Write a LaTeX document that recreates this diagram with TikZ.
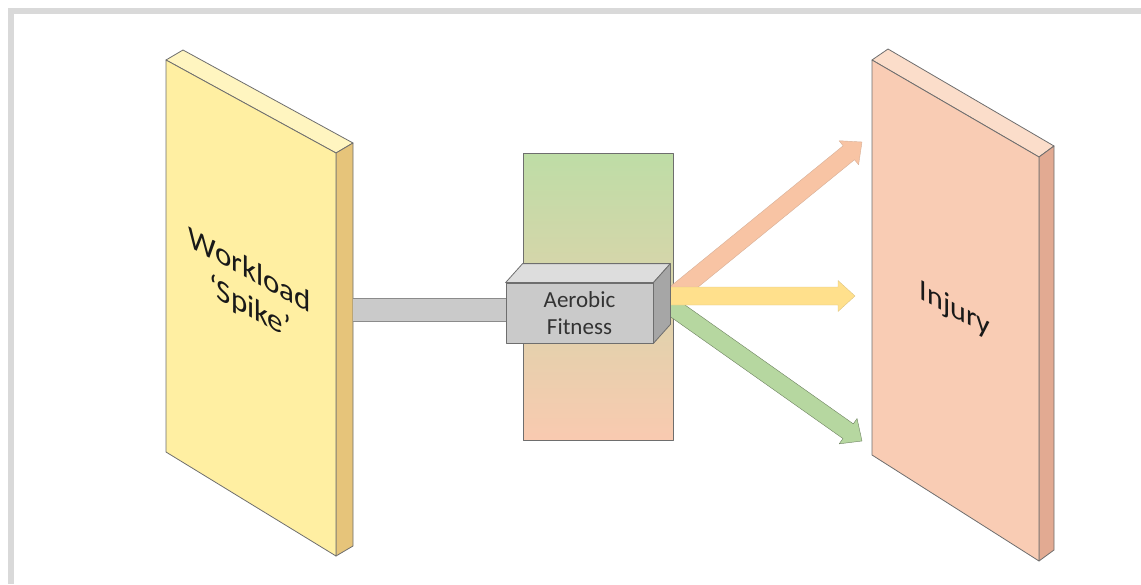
\documentclass[tikz,border=0pt]{standalone}
\usepackage{fontspec}
\setmainfont{Carlito}
\usepackage{tikz}
\usetikzlibrary{calc}
\definecolor{frameGray}{RGB}{217,217,217}
\definecolor{spikeFront}{RGB}{255,239,162}
\definecolor{spikeTop}{RGB}{255,245,192}
\definecolor{spikeSide}{RGB}{230,196,122}
\definecolor{injuryFront}{RGB}{249,204,180}
\definecolor{injuryTop}{RGB}{251,221,202}
\definecolor{injurySide}{RGB}{226,170,146}
\definecolor{fitGreen}{RGB}{190,221,166}
\definecolor{fitOrange}{RGB}{249,202,176}
\definecolor{boxFront}{RGB}{202,202,202}
\definecolor{boxTop}{RGB}{221,221,221}
\definecolor{boxSide}{RGB}{166,166,166}
\definecolor{edgeGray}{RGB}{110,110,110}
\definecolor{arrOrange}{RGB}{248,196,164}
\definecolor{arrYellow}{RGB}{255,224,140}
\definecolor{arrGreen}{RGB}{182,215,160}

\begin{document}
\begin{tikzpicture}[x=1pt, y=-1pt, line join=round]%
  \tikzset{slab edge/.style={draw=edgeGray, line width=0.8pt}}
  \tikzset{block arrow/.style={to path={
    let \p1=(\tikztostart), \p2=(\tikztotarget),
        \n1={atan2(\y2-\y1,\x2-\x1)}, \n2={veclen(\x2-\x1,\y2-\y1)-17pt} in
    ($(\p1)+(\n1-90:9pt)$) -- ($(\p1)+(\n1:\n2)+(\n1-90:9pt)$)
    -- ($(\p1)+(\n1:\n2)+(\n1-90:15.5pt)$) -- (\p2)
    -- ($(\p1)+(\n1:\n2)+(\n1+90:15.5pt)$) -- ($(\p1)+(\n1:\n2)+(\n1+90:9pt)$)
    -- ($(\p1)+(\n1+90:9pt)$) -- cycle}}}
  \tikzstyle{every node}=[text=black!90, inner sep=0pt, align=center]

  \useasboundingbox (0,0) rectangle (1141,584);
  \fill[frameGray] (8,8) rectangle (1141,14);
  \fill[frameGray] (8,8) rectangle (14,584);

  % workload slab
  \filldraw[slab edge, fill=spikeTop] (166,60) -- (183,50) -- (353,143) -- (336,153) -- cycle;
  \filldraw[slab edge, fill=spikeSide] (336,153) -- (353,143) -- (353,546) -- (336,556) -- cycle;
  \filldraw[slab edge, fill=spikeFront] (166,60) -- (336,153) -- (336,556) -- (166,452) -- cycle;
  \node[yslant=-0.55, font=\fontsize{31}{37}\selectfont] (spike) at (250,290) {Workload\\`Spike'};

  % injury slab
  \filldraw[slab edge, fill=injuryTop] (872,60) -- (888,49) -- (1054,146) -- (1039,157) -- cycle;
  \filldraw[slab edge, fill=injurySide] (1039,157) -- (1054,146) -- (1054,550) -- (1039,561) -- cycle;
  \filldraw[slab edge, fill=injuryFront] (872,60) -- (1039,157) -- (1039,561) -- (872,455) -- cycle;
  \node[yslant=-0.55, font=\fontsize{30}{36}\selectfont] (injury) at (955,310) {Injury};

  % aerobic fitness column and box
  \node[draw=edgeGray, line width=0.8pt, top color=fitGreen, bottom color=fitOrange,
        minimum width=150pt, minimum height=287pt] (column) at (598,296.5) {};
  \coordinate (fanO) at (668,300);
  \coordinate (fanY) at (668,296);
  \coordinate (fanG) at (668,304);
  \coordinate (tipO) at (862,142);
  \coordinate (tipY) at (855,296);
  \coordinate (tipG) at (862,441);
  \draw[fill=arrOrange, draw=arrOrange!85!black!90] (fanO) to[block arrow] (tipO);
  \draw[fill=arrGreen, draw=arrGreen!60!black] (fanG) to[block arrow] (tipG);
  \draw[fill=arrYellow, draw=arrYellow!85!black!90] (fanY) to[block arrow] (tipY);

  \node[draw=edgeGray, line width=0.8pt, fill=boxFront, minimum width=147pt, minimum height=60pt,
        font=\fontsize{23}{27}\selectfont, text=black!80] (aerobic) at (579.5,313) {Aerobic\\Fitness};
  \filldraw[slab edge, fill=boxTop] (aerobic.north west) -- ++(17,-19) -- ($(aerobic.north east)+(17,-19)$) -- (aerobic.north east) -- cycle;
  \filldraw[slab edge, fill=boxSide] (aerobic.north east) -- ++(17,-19) -- ($(aerobic.south east)+(17,-19)$) -- (aerobic.south east) -- cycle;

  % bar from workload to box
  \coordinate (spikeedge) at (353,310);
  \draw[draw=edgeGray!80, line width=1pt, double=boxFront, double distance=22pt] (spikeedge) -- (spikeedge -| aerobic.west);
\end{tikzpicture}
\end{document}
